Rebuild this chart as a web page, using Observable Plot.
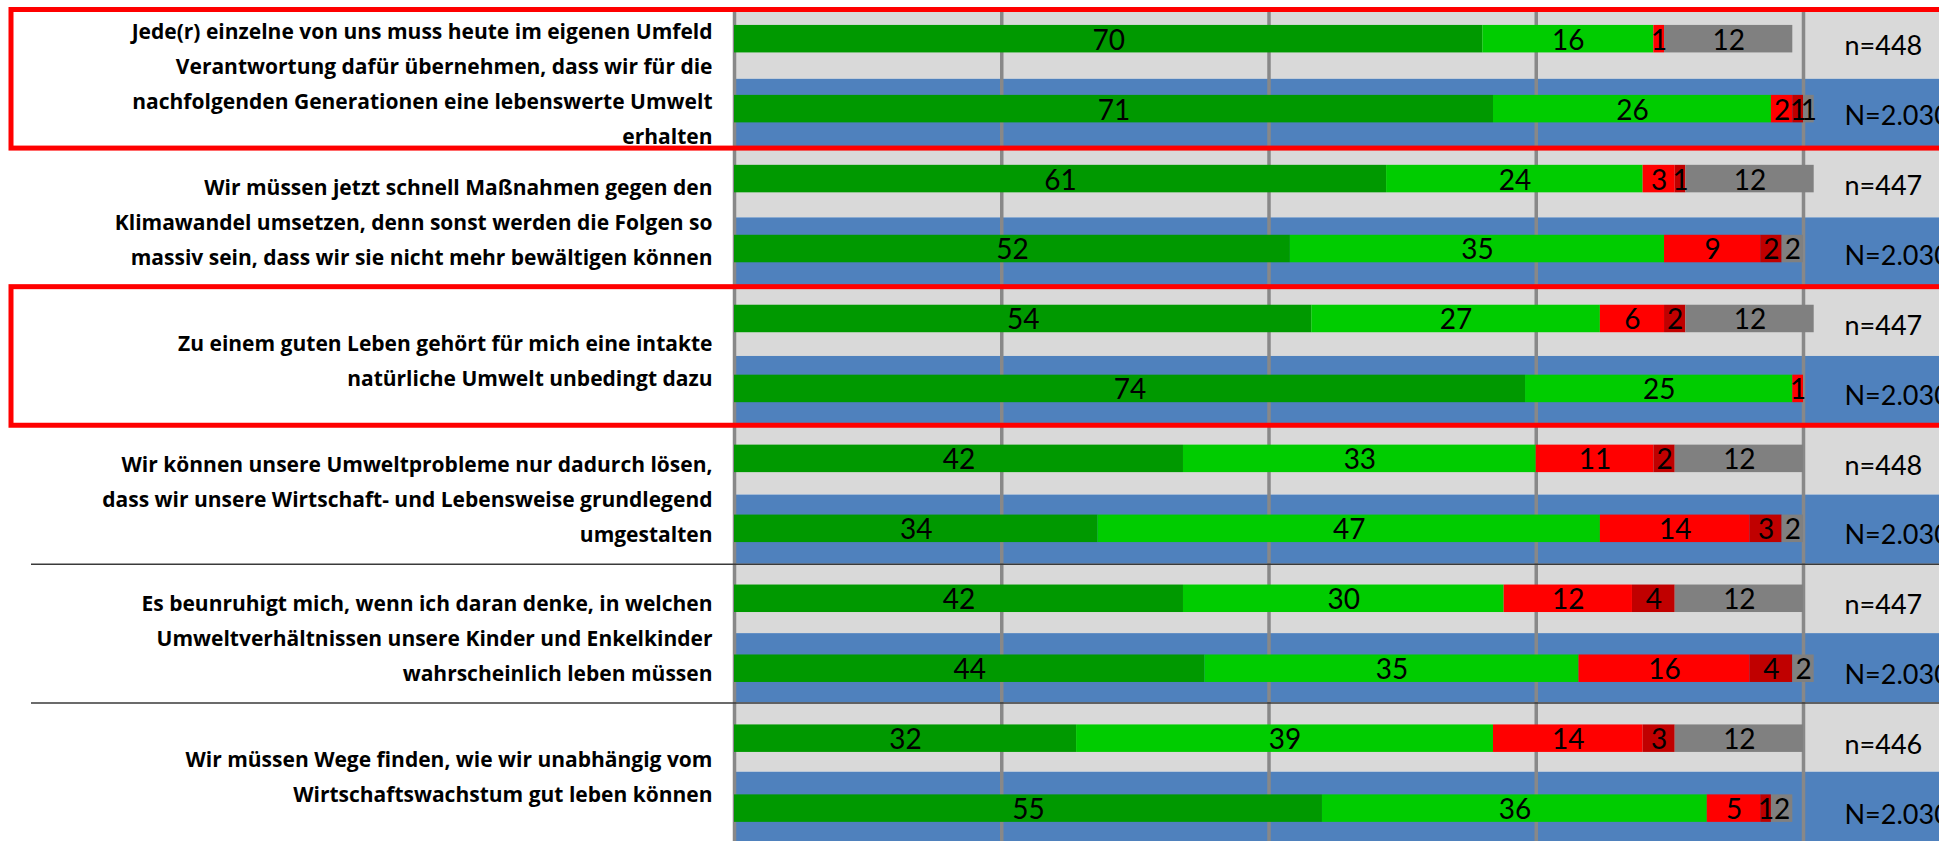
<!DOCTYPE html>
<html>
<head>
<meta charset="utf-8">
<script src="https://cdn.jsdelivr.net/npm/d3@7"></script>
<script src="https://cdn.jsdelivr.net/npm/@observablehq/plot@0.6"></script>
<style>
  html, body { margin: 0; padding: 0; background: #fff; }
  #chart { position: relative; width: 1939px; height: 841px; overflow: hidden; }
  #chart svg { position: absolute; left: 0; top: 0; }
</style>
</head>
<body>
<div id="chart"></div>
<script>
// Statements (one per group, line breaks as in the table)
const statements = [
  "Jede(r) einzelne von uns muss heute im eigenen Umfeld\nVerantwortung dafür übernehmen, dass wir für die\nnachfolgenden Generationen eine lebenswerte Umwelt\nerhalten",
  "Wir müssen jetzt schnell Maßnahmen gegen den\nKlimawandel umsetzen, denn sonst werden die Folgen so\nmassiv sein, dass wir sie nicht mehr bewältigen können",
  "Zu einem guten Leben gehört für mich eine intakte\nnatürliche Umwelt unbedingt dazu",
  "Wir können unsere Umweltprobleme nur dadurch lösen,\ndass wir unsere Wirtschaft- und Lebensweise grundlegend\numgestalten",
  "Es beunruhigt mich, wenn ich daran denke, in welchen\nUmweltverhältnissen unsere Kinder und Enkelkinder\nwahrscheinlich leben müssen",
  "Wir müssen Wege finden, wie wir unabhängig vom\nWirtschaftswachstum gut leben können"
];
const highlighted = [true, false, true, false, false, false];

// Sample sizes: subgroup (first bar) and total population (second bar)
const subgroupSizes = ["n=448", "n=447", "n=447", "n=448", "n=447", "n=446"];
const totalSize = "N=2.030";

// Answer categories and their colours
const categories = ["stimme voll und ganz zu", "stimme eher zu", "stimme eher nicht zu", "stimme überhaupt nicht zu", "weiß nicht / keine Angabe"];
const colors = ["#009900", "#00cc00", "#ff0000", "#c00000", "#808080"];

// Percentages per bar (two bars per statement: subgroup, total)
const fullyAgree      = [70, 71, 61, 52, 54, 74, 42, 34, 42, 44, 32, 55];
const ratherAgree     = [16, 26, 24, 35, 27, 25, 33, 47, 30, 35, 39, 36];
const ratherDisagree  = [ 1,  2,  3,  9,  6,  1, 11, 14, 12, 16, 14,  5];
const fullyDisagree   = [ 0,  1,  1,  2,  2,  0,  2,  3,  4,  4,  3,  1];
const dontKnow        = [12,  1, 12,  2, 12,  0, 12,  2, 12,  2, 12,  2];
const series = [fullyAgree, ratherAgree, ratherDisagree, fullyDisagree, dontKnow];

const gridTicks = [0, 25, 50, 75, 100];

// Layout
const W = 1939, H = 841;
const chartLeft = 734, chartRight = 1803;
const tableTop = 9.5, tableBottom = 841;
const barRange = [3.7, 843.1];

const groups = statements.map((text, index) => ({index, text, highlight: highlighted[index]}));
const rows = d3.range(statements.length * 2).map(row => ({
  row,
  group: Math.floor(row / 2),
  sample: row % 2 ? totalSize : subgroupSizes[Math.floor(row / 2)]
}));
const segments = rows.flatMap(r => categories.map((category, j) => ({
  row: r.row, category, value: series[j][r.row]
})));

const xScale = {domain: [0, 100], range: [chartLeft, chartRight], axis: null};
const font = "Lato, 'Open Sans', sans-serif";

// Table layer: row backgrounds, grid, group frames and statement texts
const table = Plot.plot({
  width: W, height: H, margin: 0,
  style: {background: "transparent", fontFamily: font, overflow: "hidden"},
  x: xScale,
  y: {domain: [0, rows.length], range: [tableTop, tableBottom], axis: null},
  color: {type: "identity"},
  marks: [
    Plot.rect(rows, {
      y1: "row", y2: d => d.row + 1,
      fill: d => d.row % 2 ? "#4f81bd" : "#d9d9d9",
      insetLeft: chartLeft
    }),
    Plot.ruleX(gridTicks, {x: d => d, y1: 0, y2: rows.length, stroke: "#888888", strokeWidth: 3.5}),
    Plot.ruleY(d3.range(1, groups.length), {y: g => g * 2, stroke: "#3a3a3a", strokeWidth: 1.5, insetLeft: 31}),
    Plot.rect(groups.filter(d => d.highlight), {
      y1: d => d.index * 2, y2: d => d.index * 2 + 2,
      fill: "none", stroke: "#ff0000", strokeWidth: 5,
      insetLeft: 11, insetRight: -20
    }),
    Plot.text(groups, {
      x: 0, y: d => d.index * 2 + 1, text: "text",
      textAnchor: "end", dx: -22, dy: 1,
      fontFamily: "'Open Sans', sans-serif",
      fontSize: 21, fontWeight: "bold", lineHeight: 1.67, fill: "#000"
    })
  ]
});

// Chart layer: stacked bars, value labels and sample sizes
const chart = Plot.plot({
  width: W, height: H, margin: 0,
  style: {background: "transparent", fontFamily: font, overflow: "visible"},
  x: xScale,
  y: {type: "band", domain: rows.map(d => d.row), range: barRange,
      paddingInner: 0.607, paddingOuter: 0.3035, round: false, axis: null},
  color: {domain: categories, range: colors},
  marks: [
    Plot.barX(segments, Plot.stackX({x: "value", y: "row", fill: "category"})),
    Plot.text(segments, Plot.stackX({
      filter: d => d.value > 0,
      x: "value", y: "row", text: "value",
      fontSize: 28, dy: 1.5, fill: "#000"
    })),
    Plot.text(rows, {
      x: 100, y: "row", text: "sample",
      textAnchor: "start", dx: 41, dy: 7, fontSize: 27, fill: "#000"
    })
  ]
});

const root = document.getElementById("chart");
root.append(table, chart);
</script>
</body>
</html>
